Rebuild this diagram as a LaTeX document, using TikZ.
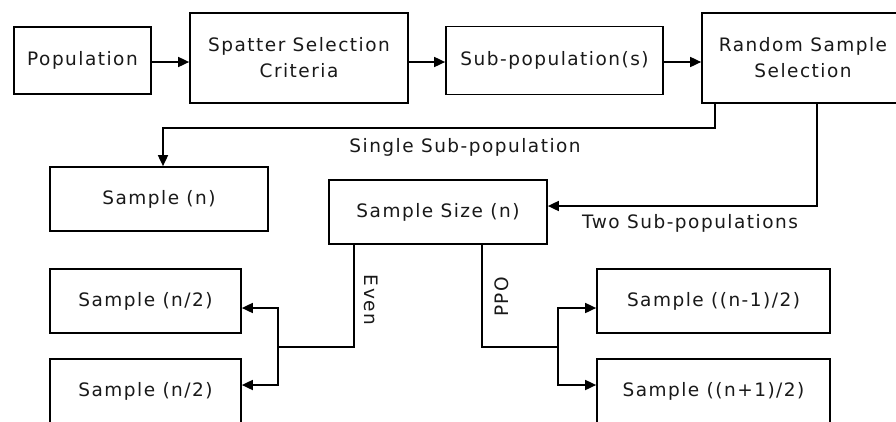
\documentclass[tikz,border=0pt]{standalone}
\usepackage{fontspec}
\setmainfont[LetterSpace=8]{DejaVu Sans}
\usetikzlibrary{arrows.meta}
\tikzset{
  box/.style={draw, line width=1.7pt, rectangle, align=center, inner sep=0pt,
    font=\fontsize{18.5}{26}\selectfont, text=black!90},
  lbl/.style={font=\fontsize{18.5}{26}\selectfont, text=black!90, inner sep=0pt},
  conn/.style={line width=1.7pt},
  arr/.style={conn, -{Triangle[length=11pt,width=10pt]}}
}
\begin{document}
\begin{tikzpicture}[x=1pt,y=-1pt]
\clip (0,0) rectangle (896,421);
\fill[white] (0,0) rectangle (896,421);
% boxes
\node[box, minimum width=137pt, minimum height=67pt] (pop) at (82.5,60.5) {Population};
\node[box, minimum width=218pt, minimum height=90pt] (spat) at (299,58) {Spatter Selection\\Criteria};
\node[box, minimum width=217pt, minimum height=68pt] (sub) at (554.5,60.5) {Sub-population(s)};
\node[box, minimum width=202pt, minimum height=90pt] (rand) at (803,58) {Random Sample\\Selection};
\node[box, minimum width=218pt, minimum height=64pt] (samn) at (159,199) {Sample (n)};
\node[box, minimum width=218pt, minimum height=64pt] (size) at (438,212) {Sample Size (n)};
\node[box, minimum width=191pt, minimum height=64pt] (half1) at (145.5,301) {Sample (n/2)};
\node[box, minimum width=191pt, minimum height=64pt] (half2) at (145.5,391) {Sample (n/2)};
\node[box, minimum width=233pt, minimum height=64pt] (m1) at (713.5,301) {Sample ((n-1)/2)};
\node[box, minimum width=233pt, minimum height=64pt] (p1) at (713.5,391) {Sample ((n+1)/2)};
% top row arrows
\coordinate (ty) at (0,62);
\draw[arr] (pop.east |- ty) -- (spat.west |- ty);
\draw[arr] (spat.east |- ty) -- (sub.west |- ty);
\draw[arr] (sub.east |- ty) -- (rand.west |- ty);
% single sub-population
\coordinate (s1) at (715,128);
\coordinate (s2) at (163,128);
\draw[arr] (rand.south -| s1) -- (s1) -- (s2) -- (s2 |- samn.north);
\node[lbl] (lsingle) at (465,147) {Single Sub-population};
% two sub-populations
\coordinate (t1) at (817,206);
\draw[arr] (rand.south -| t1) -- (t1) -- (size.east |- t1);
\node[lbl] (ltwo) at (690,223) {Two Sub-populations};
% even
\coordinate (e1) at (354,347);
\coordinate (e2) at (278,347);
\coordinate (e3) at (278,308);
\coordinate (e4) at (278,385);
\draw[conn] (size.south -| e1) -- (e1) -- (e2);
\draw[arr] (e2) -- (e3) -- (half1.east |- e3);
\draw[arr] (e2) -- (e4) -- (half2.east |- e4);
\node[lbl, rotate=-90] (leven) at (371,300) {Even};
% odd
\coordinate (o1) at (482,347);
\coordinate (o2) at (558,347);
\coordinate (o3) at (558,308);
\coordinate (o4) at (558,385);
\draw[conn] (size.south -| o1) -- (o1) -- (o2);
\draw[arr] (o2) -- (o3) -- (m1.west |- o3);
\draw[arr] (o2) -- (o4) -- (p1.west |- o4);
\node[lbl, rotate=90] (lppo) at (502,297) {PPO};
\end{tikzpicture}
\end{document}
